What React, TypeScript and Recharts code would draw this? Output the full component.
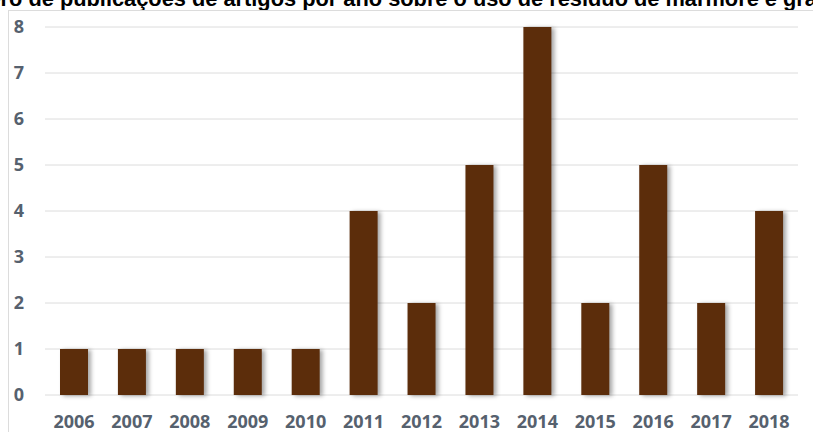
import { BarChart, Bar, XAxis, YAxis, CartesianGrid } from 'recharts';

const TITLE = 'Número de publicações de artigos por ano sobre o uso de resíduo de mármore e granito';
const YEARS = ['2006', '2007', '2008', '2009', '2010', '2011', '2012', '2013', '2014', '2015', '2016', '2017', '2018'];
const COUNTS = [1, 1, 1, 1, 1, 4, 2, 5, 8, 2, 5, 2, 4];
const Y_TICKS = [0, 1, 2, 3, 4, 5, 6, 7, 8];

const BAR_COLOR = '#5c2d0b';
const TICK_COLOR = '#56616e';
const GRID_COLOR = '#dcdcdc';

const data = YEARS.map((year, i) => ({ year, count: COUNTS[i] }));

const tickStyle = {
  fill: TICK_COLOR,
  fontSize: 18,
  fontWeight: 700,
  fontFamily: '"Open Sans", sans-serif',
};

const ShadowBar = (props: any) => {
  const { x, y, width, height, fill } = props;
  if (!height || height <= 0) return null;
  return (
    <rect
      x={x}
      y={y}
      width={width}
      height={height}
      fill={fill}
      style={{ filter: 'drop-shadow(3px 1px 2px rgba(0,0,0,0.35))' }}
    />
  );
};

export default function App() {
  return (
    <div
      style={{
        position: 'fixed',
        left: 0,
        top: 0,
        width: 813,
        height: 432,
        overflow: 'hidden',
        background: '#fff',
      }}
    >
      {/* title is cut off by the crop, as in the source */}
      <div
        style={{
          position: 'absolute',
          left: -60,
          top: -12,
          whiteSpace: 'nowrap',
          fontFamily: '"Liberation Sans", Arial, sans-serif',
          fontWeight: 700,
          fontSize: 21.8,
          lineHeight: '22px',
          color: '#000',
        }}
      >
        {TITLE}
      </div>
      <div
        style={{
          position: 'absolute',
          left: 8,
          top: 10,
          right: 0,
          bottom: 0,
          borderTop: `1px solid ${GRID_COLOR}`,
          borderLeft: `1px solid ${GRID_COLOR}`,
        }}
      />
      <div style={{ position: 'absolute', left: 0, top: 0 }}>
        <BarChart
          width={813}
          height={432}
          data={data}
          margin={{ top: 27, right: 15, left: 8, bottom: 7 }}
          barCategoryGap={0}
        >
          <CartesianGrid vertical={false} stroke={GRID_COLOR} />
          <XAxis
            dataKey="year"
            axisLine={false}
            tickLine={false}
            tickSize={0}
            tickMargin={20}
            height={30}
            interval={0}
            tick={tickStyle}
          />
          <YAxis
            domain={[0, 8]}
            ticks={Y_TICKS}
            axisLine={false}
            tickLine={false}
            tickSize={0}
            tickMargin={21}
            width={37}
            tick={tickStyle}
          />
          <Bar
            dataKey="count"
            fill={BAR_COLOR}
            barSize={28}
            shape={ShadowBar}
            isAnimationActive={false}
          />
        </BarChart>
      </div>
    </div>
  );
}
